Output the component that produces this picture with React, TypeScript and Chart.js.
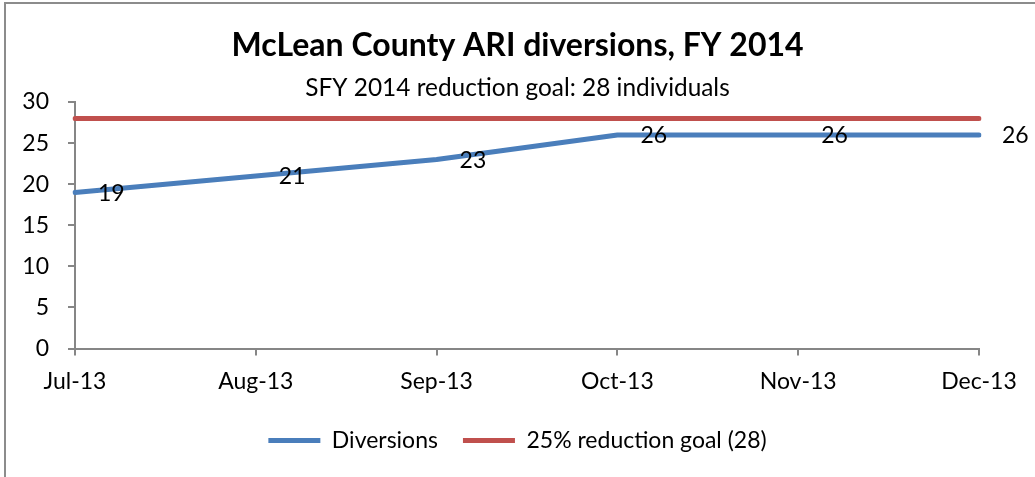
import React, { useEffect, useRef } from 'react';
import { Chart, registerables } from 'chart.js';

Chart.register(...registerables);

const months = ['Jul-13', 'Aug-13', 'Sep-13', 'Oct-13', 'Nov-13', 'Dec-13'];
const diversions = [19, 21, 23, 26, 26, 26];
const goal = [28, 28, 28, 28, 28, 28];
const seriesNames = ['Diversions', '25% reduction goal (28)'];
const titleText = 'McLean County ARI diversions, FY 2014';
const subtitleText = 'SFY 2014 reduction goal: 28 individuals';
const yMin = 0;
const yMax = 30;
const yStep = 5;

const FONT = 'Lato, "Noto Sans", sans-serif';

const framePlugin = {
  id: 'frame',
  beforeDraw(chart: any) {
    const ctx = chart.ctx;
    ctx.save();
    ctx.strokeStyle = '#8c8c8c';
    ctx.lineWidth = 2;
    ctx.beginPath();
    ctx.moveTo(5, chart.height);
    ctx.lineTo(5, 3);
    ctx.lineTo(chart.width, 3);
    ctx.stroke();
    ctx.restore();
  },
};

const labelPlugin = {
  id: 'pointLabels',
  afterDatasetsDraw(chart: any) {
    const ctx = chart.ctx;
    const meta = chart.getDatasetMeta(0);
    ctx.save();
    ctx.font = `23px ${FONT}`;
    ctx.fillStyle = '#000';
    ctx.textAlign = 'left';
    ctx.textBaseline = 'middle';
    meta.data.forEach((pt: any, i: number) => {
      ctx.fillText(String(diversions[i]), pt.x + 23, pt.y + 1);
    });
    ctx.restore();
  },
};

export default function App() {
  const ref = useRef<HTMLCanvasElement>(null);
  useEffect(() => {
    if (!ref.current) return;
    Chart.defaults.font.family = FONT;
    const chart = new Chart(ref.current, {
      type: 'line',
      data: {
        labels: months,
        datasets: [
          {
            label: seriesNames[0],
            data: diversions,
            borderColor: '#4a7ebb',
            backgroundColor: '#4a7ebb',
            borderWidth: 5,
            borderCapStyle: 'round',
            borderJoinStyle: 'round',
            pointRadius: 0,
            tension: 0,
          },
          {
            label: seriesNames[1],
            data: goal,
            borderColor: '#c0504d',
            backgroundColor: '#c0504d',
            borderWidth: 5,
            borderCapStyle: 'round',
            borderJoinStyle: 'round',
            pointRadius: 0,
            tension: 0,
          },
        ],
      },
      options: {
        animation: false,
        responsive: true,
        maintainAspectRatio: false,
        layout: { padding: { left: 0, right: 0, top: 0, bottom: 15 } },
        plugins: {
          title: {
            display: true,
            text: titleText,
            color: '#000',
            font: { size: 32, weight: 'bold', family: FONT, lineHeight: 1.2 },
            padding: { top: 26.8, bottom: 3 },
          },
          subtitle: {
            display: true,
            text: subtitleText,
            color: '#000',
            font: { size: 24.4, family: FONT, lineHeight: 1.1 },
            padding: { top: 6.4, bottom: 0.6 },
          },
          legend: {
            position: 'bottom',
            labels: {
              color: '#000',
              font: { size: 23, family: FONT },
              usePointStyle: true,
              pointStyle: 'line',
              pointStyleWidth: 52,
              padding: 25,
            },
          },
          tooltip: { enabled: false },
        },
        scales: {
          x: {
            type: 'category',
            offset: false,
            afterFit: (s: any) => {
              s.height = 55.5;
            },
            grid: {
              drawOnChartArea: false,
              drawTicks: true,
              tickLength: 7,
              color: '#868686',
              lineWidth: 2,
            },
            border: { display: true, color: '#868686', width: 2 },
            ticks: {
              color: '#000',
              font: { size: 23, family: FONT },
              padding: 12,
              maxRotation: 0,
              autoSkip: false,
            },
          },
          y: {
            min: yMin,
            max: yMax,
            afterFit: (s: any) => {
              s.width = 75;
            },
            grid: {
              drawOnChartArea: false,
              drawTicks: true,
              tickLength: 7,
              color: '#868686',
              lineWidth: 2,
            },
            border: { display: true, color: '#868686', width: 2 },
            ticks: {
              stepSize: yStep,
              color: '#000',
              font: { size: 23, family: FONT },
              padding: 19,
            },
          },
          yRight: {
            type: 'linear',
            position: 'right',
            display: true,
            min: yMin,
            max: yMax,
            afterFit: (s: any) => {
              s.width = 56;
            },
            grid: { display: false, drawTicks: false },
            border: { display: false },
            ticks: { display: false },
          },
        },
      },
      plugins: [framePlugin, labelPlugin],
    });
    return () => chart.destroy();
  }, []);

  return (
    <div style={{ position: 'fixed', left: 0, top: 0, width: 1035, height: 477, background: '#fff' }}>
      <canvas ref={ref} />
    </div>
  );
}
